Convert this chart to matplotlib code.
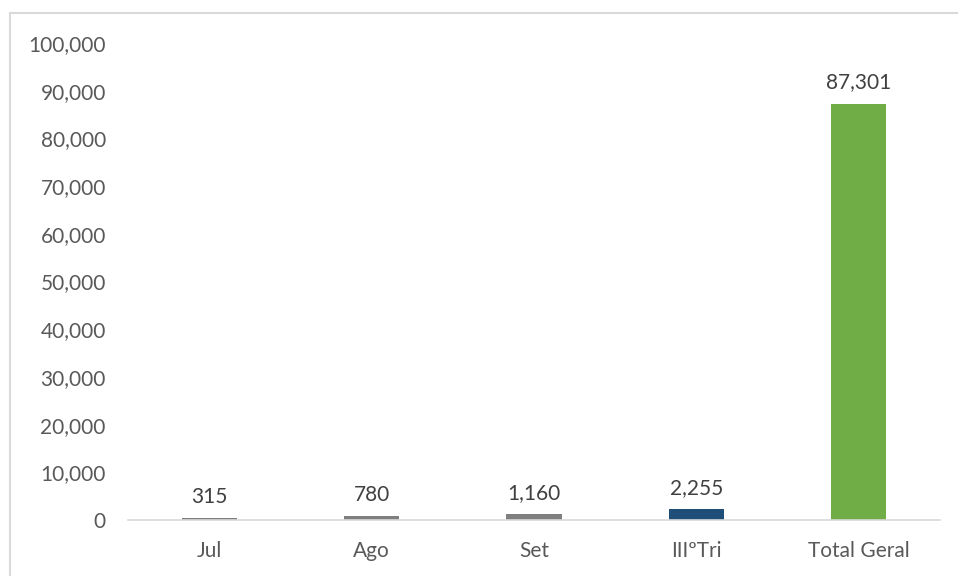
import matplotlib
matplotlib.use("Agg")
import matplotlib.pyplot as plt
from matplotlib.patches import Rectangle
from matplotlib.ticker import FuncFormatter

categories = ["Jul", "Ago", "Set", "IIIºTri", "Total Geral"]
values = [315, 780, 1160, 2255, 87301]
colors = ["#7F7F7F", "#7F7F7F", "#7F7F7F", "#1F4E79", "#70AD47"]
yticks = [0, 10000, 20000, 30000, 40000, 50000, 60000, 70000, 80000, 90000, 100000]

plt.rcParams["font.family"] = ["Lato", "DejaVu Sans"]
text_color = "#595959"

W, H = 958, 576
fig = plt.figure(figsize=(W / 100, H / 100), dpi=100)
fig.patch.set_facecolor("white")

# chart area frame
fig.patches.append(Rectangle((10 / W, -0.02), 1.2, (H - 13) / H + 0.02,
                             transform=fig.transFigure, fill=False,
                             edgecolor="#D9D9D9", linewidth=1.5))

ax = fig.add_axes([128 / W, 56 / H, (940 - 128) / W, (520 - 43) / H])
x = range(len(categories))
ax.bar(x, values, width=0.34, color=colors)
ax.set_xlim(-0.5, len(categories) - 0.5)
ax.set_ylim(0, 100000)
ax.set_yticks(yticks)
ax.yaxis.set_major_formatter(FuncFormatter(lambda v, p: f"{int(v):,}"))
ax.set_xticks(list(x))
ax.set_xticklabels(categories)

for s in ["top", "right", "left"]:
    ax.spines[s].set_visible(False)
ax.spines["bottom"].set_color("#D9D9D9")
ax.spines["bottom"].set_linewidth(1.2)
ax.tick_params(axis="both", length=0, labelsize=15, labelcolor=text_color)
ax.tick_params(axis="y", pad=16)
ax.tick_params(axis="x", pad=15)

for xi, v in zip(x, values):
    ax.annotate(f"{v:,}", (xi, v), xytext=(0, 8), textcoords="offset points",
                ha="center", va="bottom", fontsize=15, color="#404040")

fig.savefig("out.png", dpi=100)
